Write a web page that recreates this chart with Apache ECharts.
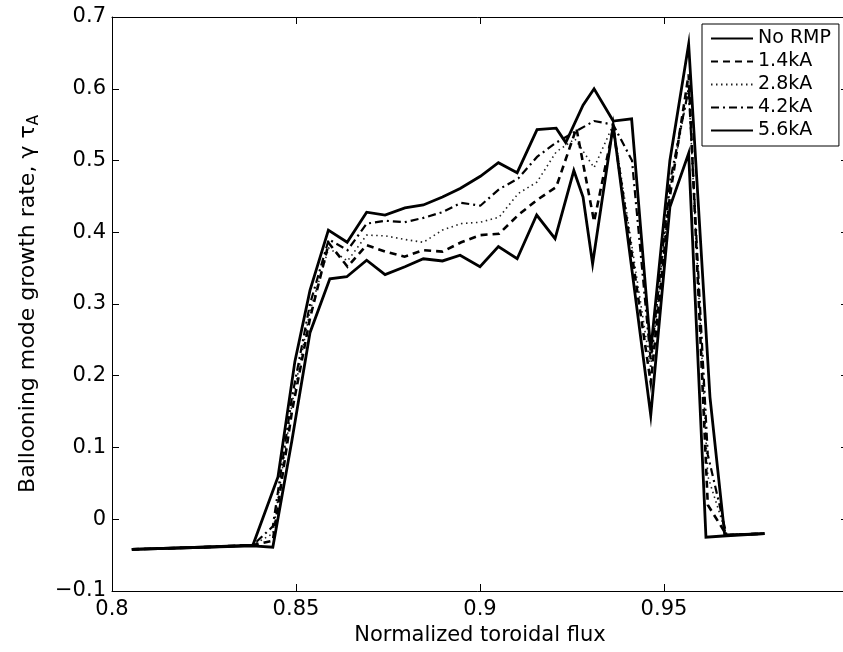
<!DOCTYPE html>
<html>
<head>
<meta charset="utf-8">
<script src="https://cdn.jsdelivr.net/npm/echarts@6/dist/echarts.min.js"></script>
<style>
  html, body { margin: 0; padding: 0; background: #fff; }
  #main { width: 843px; height: 652px; }
</style>
</head>
<body>
<div id="main"></div>
<script>
// series names as in the legend
var seriesNames = ['No RMP', '1.4kA', '2.8kA', '4.2kA', '5.6kA'];

// [normalized toroidal flux, growth rate]
var noRmp = [[0.8054,-0.042],[0.8245,-0.039],[0.8383,-0.036],[0.8451,0.059],[0.8497,0.22],[0.8538,0.319],
    [0.8588,0.403],[0.8639,0.386],[0.8692,0.428],[0.8742,0.424],[0.8796,0.434],[0.8846,0.438],[0.8898,0.449],
    [0.8946,0.461],[0.9001,0.478],[0.9050,0.497],[0.9101,0.483],[0.9155,0.543],[0.9207,0.545],[0.9233,0.525],
    [0.9280,0.577],[0.9310,0.600],[0.9362,0.555],[0.9412,0.558],[0.9464,0.235],[0.9516,0.50],[0.9567,0.662],
    [0.9625,0.17],[0.9665,-0.022],[0.9773,-0.020]];

var rmp14 = [[0.8054,-0.042],[0.8245,-0.039],[0.8383,-0.036],[0.8437,-0.03],[0.8489,0.15],[0.8538,0.28],
    [0.8589,0.385],[0.8640,0.352],[0.8692,0.382],[0.8743,0.373],[0.8795,0.366],[0.8846,0.375],[0.8898,0.373],
    [0.8949,0.386],[0.9001,0.396],[0.9052,0.398],[0.9104,0.424],[0.9155,0.445],[0.9207,0.463],[0.9262,0.545],
    [0.9310,0.415],[0.9362,0.545],[0.9464,0.19],[0.9516,0.45],[0.9567,0.62],[0.9619,0.02],[0.9670,-0.022],
    [0.9773,-0.020]];

var rmp28 = [[0.8054,-0.042],[0.8245,-0.039],[0.8383,-0.036],[0.8437,-0.02],[0.8489,0.16],[0.8538,0.29],
    [0.8589,0.378],[0.8640,0.36],[0.8692,0.396],[0.8743,0.395],[0.8795,0.39],[0.8846,0.386],[0.8898,0.403],
    [0.8949,0.412],[0.9001,0.414],[0.9052,0.421],[0.9104,0.454],[0.9155,0.47],[0.9207,0.512],[0.9258,0.53],
    [0.9310,0.49],[0.9362,0.55],[0.9464,0.21],[0.9516,0.46],[0.9567,0.60],[0.9619,0.06],[0.9670,-0.022],
    [0.9773,-0.020]];

var rmp42 = [[0.8054,-0.042],[0.8245,-0.039],[0.8383,-0.036],[0.8437,-0.01],[0.8489,0.17],[0.8538,0.30],
    [0.8589,0.39],[0.8640,0.375],[0.8692,0.412],[0.8743,0.416],[0.8795,0.414],[0.8846,0.42],[0.8898,0.428],
    [0.8949,0.441],[0.9001,0.437],[0.9052,0.46],[0.9104,0.475],[0.9155,0.505],[0.9207,0.525],[0.9258,0.54],
    [0.9310,0.555],[0.9362,0.55],[0.9413,0.50],[0.9464,0.22],[0.9516,0.47],[0.9567,0.60],[0.9619,0.09],
    [0.9670,-0.022],[0.9773,-0.020]];

var rmp56 = [[0.8054,-0.042],[0.8245,-0.039],[0.8383,-0.037],[0.8437,-0.039],[0.8489,0.11],[0.8538,0.26],
    [0.8592,0.335],[0.8638,0.338],[0.8692,0.361],[0.8742,0.341],[0.8796,0.352],[0.8846,0.363],[0.8898,0.360],
    [0.8946,0.368],[0.9000,0.352],[0.9050,0.380],[0.9101,0.363],[0.9154,0.424],[0.9204,0.391],[0.9255,0.486],
    [0.9280,0.449],[0.9306,0.356],[0.9362,0.549],[0.9464,0.145],[0.9516,0.435],[0.9567,0.51],[0.9614,-0.025],
    [0.9670,-0.023],[0.9773,-0.020]];

var font = "'DejaVu Sans', 'Liberation Sans', Arial, sans-serif";

var myChart = echarts.init(document.getElementById('main'));

function lineSeries(name, data, width, type, color) {
    return {
        name: name,
        type: 'line',
        data: data,
        symbol: 'none',
        animation: false,
        lineStyle: {color: color || '#000', width: width, type: type, join: 'miter'},
        // hide the legend marker, keep only the line sample
        itemStyle: {color: color || '#000', opacity: 0}
    };
}

function axisBase() {
    return {
        type: 'value',
        axisLine: {show: true, onZero: false, lineStyle: {color: '#000', width: 1}},
        axisTick: {show: true, inside: true, length: 7, lineStyle: {color: '#000'}},
        splitLine: {show: false}
    };
}

var xMain = axisBase();
xMain.min = 0.8; xMain.max = 1.0; xMain.interval = 0.05;
xMain.name = 'Normalized toroidal flux';
xMain.nameLocation = 'middle';
xMain.nameGap = 32;
xMain.nameTextStyle = {fontFamily: font, fontSize: 21, color: '#000'};
xMain.axisLabel = {fontFamily: font, fontSize: 21, color: '#000', margin: 8};

var xTop = axisBase();
xTop.position = 'top';
xTop.min = 0.8; xTop.max = 1.0; xTop.interval = 0.05;
xTop.axisLabel = {show: false};

var yMain = axisBase();
yMain.min = -0.1; yMain.max = 0.7; yMain.interval = 0.1;
yMain.name = 'Ballooning mode growth rate, γ τ{sub|A}';
yMain.nameLocation = 'middle';
yMain.nameGap = 70;
yMain.nameTextStyle = {
    fontFamily: font, fontSize: 22, color: '#000',
    rich: {sub: {fontFamily: font, fontSize: 15, color: '#000', padding: [13, 0, 0, 0]}}
};
yMain.axisLabel = {
    fontFamily: font, fontSize: 21, color: '#000', margin: 6,
    formatter: function (v) {
        var s = (Math.round(v * 10) / 10).toString();
        return s.replace('-', '\u2212');
    }
};

var yRight = axisBase();
yRight.position = 'right';
yRight.min = -0.1; yRight.max = 0.7; yRight.interval = 0.1;
yRight.axisLabel = {show: false};

var option = {
    backgroundColor: '#fff',
    animation: false,
    grid: {left: 112, top: 17, right: -5, bottom: 61, outerBoundsMode: 'none'},
    legend: {
        orient: 'vertical',
        left: 702,
        top: 24,
        itemWidth: 42,
        itemHeight: 14,
        itemGap: 4,
        padding: [5, 8, 6, 8],
        borderColor: '#000',
        borderWidth: 1,
        backgroundColor: '#fff',
        textStyle: {fontFamily: font, fontSize: 19, color: '#000'},
        data: seriesNames
    },
    xAxis: [xMain, xTop],
    yAxis: [yMain, yRight],
    series: [
        lineSeries('2.8kA', rmp28, 1.6, [1.5, 3.5], '#222'),
        lineSeries('4.2kA', rmp42, 2.2, [8, 4, 2, 4]),
        lineSeries('1.4kA', rmp14, 2.6, [7, 5]),
        lineSeries('5.6kA', rmp56, 2.8, 'solid'),
        lineSeries('No RMP', noRmp, 2.8, 'solid')
    ]
};

myChart.setOption(option);
</script>
</body>
</html>
